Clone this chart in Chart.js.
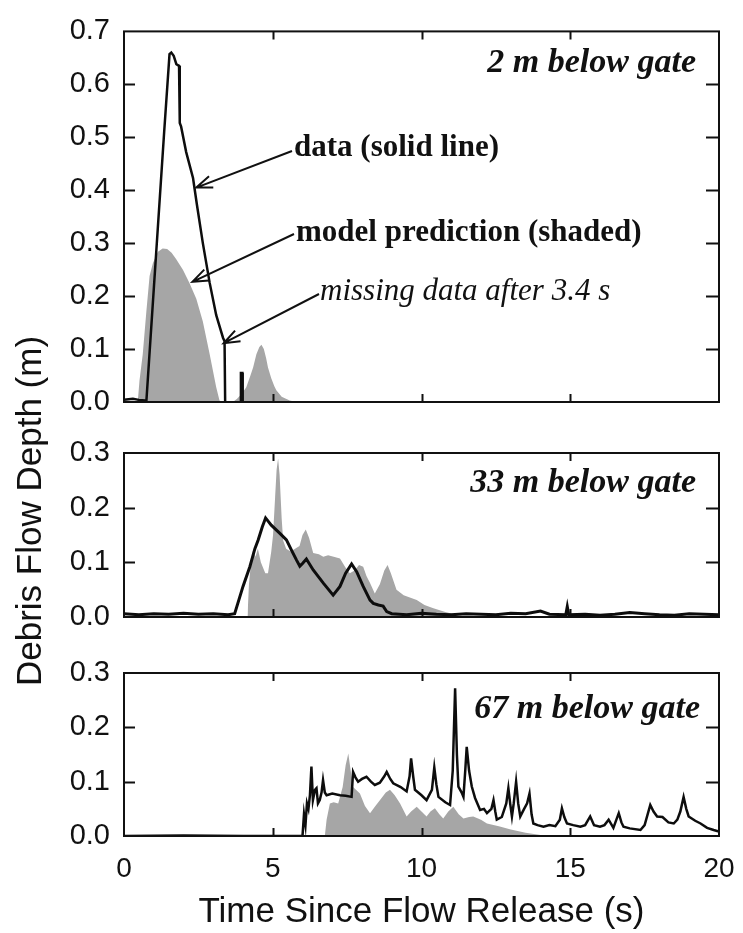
<!DOCTYPE html>
<html>
<head>
<meta charset="utf-8">
<title>Debris Flow Depth</title>
<script src="https://cdn.jsdelivr.net/npm/chart.js@4.4.1/dist/chart.umd.min.js"></script>
<style>
  html, body { margin: 0; padding: 0; background: #fff; }
  #wrap { position: relative; width: 743px; height: 933px; }
  #wrap canvas { position: absolute; left: 0; top: 0; }
</style>
</head>
<body>
<div id="wrap">
  <canvas id="gate2" width="743" height="933"></canvas>
  <canvas id="gate33" width="743" height="933"></canvas>
  <canvas id="gate67" width="743" height="933"></canvas>
</div>
<script>
// ---- time axis ----
const timeTicks = [0, 5, 10, 15, 20];

// ---- 2 m below gate ----
const gate2Time  = [0, 0.3, 0.5, 0.7, 0.75, 0.95, 1.15, 1.35, 1.53, 1.59, 1.67, 1.76, 1.85, 1.87, 1.88, 1.92, 2.09, 2.32, 2.45, 2.65, 2.88, 3.1, 3.33, 3.38, 3.4, 3.41, 3.92, 3.93, 3.98, 3.99, 4.0];
const gate2Depth = [0.004, 0.006, 0.004, 0.003, 0.0, 0.17, 0.34, 0.51, 0.657, 0.66, 0.654, 0.638, 0.635, 0.626, 0.527, 0.52, 0.472, 0.423, 0.373, 0.30, 0.225, 0.164, 0.121, 0.115, 0.0, null, 0.0, 0.055, 0.055, 0.0, null];
const gate2ModelTime  = [0.4, 0.47, 0.52, 0.63, 0.75, 0.86, 0.97, 1.14, 1.3, 1.45, 1.6, 1.75, 1.98, 2.2, 2.43, 2.65, 2.88, 3.1, 3.21, 3.3, 3.66, 3.8, 3.95, 4.11, 4.25, 4.34, 4.45, 4.55, 4.62, 4.7, 4.78, 4.84, 4.95, 5.05, 5.12, 5.3, 5.57, 5.8];
const gate2Model      = [0, 0.005, 0.04, 0.09, 0.17, 0.238, 0.262, 0.284, 0.29, 0.289, 0.282, 0.27, 0.25, 0.225, 0.195, 0.152, 0.09, 0.028, 0.003, 0, 0, 0.006, 0.015, 0.028, 0.05, 0.065, 0.09, 0.104, 0.108, 0.1, 0.082, 0.065, 0.045, 0.03, 0.022, 0.01, 0.003, 0];

// ---- 33 m below gate ----
const gate33Time  = [0, 0.5, 1, 1.5, 2, 2.5, 3, 3.5, 3.72, 4.0, 4.23, 4.4, 4.51, 4.65, 4.76, 4.85, 4.95, 5.24, 5.46, 5.65, 5.8, 5.91, 6.0, 6.13, 6.36, 6.7, 7.03, 7.26, 7.45, 7.65, 7.82, 8.04, 8.27, 8.38, 8.55, 8.71, 8.83, 9.0, 9.5, 10.0, 10.5, 11, 11.5, 12, 12.5, 13, 13.5, 14.0, 14.3, 14.85, 14.9, 14.95, 15.5, 16, 16.5, 17, 17.5, 18, 18.5, 19, 19.5, 20];
const gate33Depth = [0.006, 0.004, 0.006, 0.005, 0.007, 0.005, 0.006, 0.004, 0.006, 0.056, 0.092, 0.125, 0.141, 0.165, 0.181, 0.175, 0.168, 0.153, 0.141, 0.12, 0.104, 0.093, 0.098, 0.106, 0.086, 0.062, 0.04, 0.056, 0.08, 0.097, 0.083, 0.056, 0.031, 0.025, 0.022, 0.02, 0.01, 0.006, 0.004, 0.007, 0.005, 0.004, 0.006, 0.005, 0.004, 0.007, 0.006, 0.011, 0.005, 0.004, 0.019, 0.004, 0.005, 0.003, 0.005, 0.008, 0.006, 0.004, 0.003, 0.006, 0.005, 0.004];
const gate33ModelTime = [4.15, 4.2, 4.27, 4.34, 4.42, 4.5, 4.6, 4.75, 4.84, 4.95, 5.01, 5.08, 5.13, 5.18, 5.23, 5.3, 5.35, 5.45, 5.6, 5.75, 5.9, 6.0, 6.11, 6.22, 6.36, 6.55, 6.7, 6.86, 7.05, 7.26, 7.45, 7.59, 7.75, 7.9, 8.04, 8.15, 8.27, 8.43, 8.6, 8.75, 8.86, 8.97, 9.16, 9.4, 9.84, 10.1, 10.4, 10.8, 11.1, 11.3];
const gate33Model     = [0, 0.06, 0.1, 0.123, 0.11, 0.125, 0.1, 0.08, 0.08, 0.12, 0.15, 0.22, 0.27, 0.29, 0.26, 0.18, 0.14, 0.125, 0.12, 0.125, 0.13, 0.15, 0.16, 0.145, 0.117, 0.115, 0.11, 0.113, 0.11, 0.107, 0.09, 0.08, 0.085, 0.095, 0.092, 0.075, 0.062, 0.043, 0.06, 0.085, 0.095, 0.08, 0.05, 0.04, 0.031, 0.022, 0.016, 0.009, 0.005, 0];

// ---- 67 m below gate ----
const gate67Time  = [0, 2, 4, 6.0, 6.05, 6.1, 6.15, 6.2, 6.25, 6.3, 6.35, 6.42, 6.47, 6.52, 6.58, 6.64, 6.69, 6.75, 6.81, 7.0, 7.26, 7.45, 7.65, 7.7, 7.78, 7.87, 8.0, 8.15, 8.3, 8.43, 8.6, 8.75, 8.83, 8.95, 9.05, 9.3, 9.5, 9.6, 9.65, 9.72, 9.78, 10.0, 10.17, 10.35, 10.43, 10.5, 10.57, 10.8, 10.96, 11.05, 11.13, 11.19, 11.24, 11.35, 11.41, 11.47, 11.52, 11.6, 11.69, 11.8, 11.97, 12.1, 12.2, 12.35, 12.42, 12.48, 12.53, 12.7, 12.85, 12.92, 12.98, 13.04, 13.1, 13.18, 13.25, 13.32, 13.45, 13.55, 13.63, 13.7, 13.76, 13.9, 14.1, 14.3, 14.5, 14.65, 14.72, 14.8, 14.89, 15.1, 15.34, 15.5, 15.67, 15.8, 16.0, 16.15, 16.29, 16.45, 16.63, 16.72, 16.79, 17.0, 17.36, 17.5, 17.69, 17.8, 17.92, 18.1, 18.3, 18.48, 18.6, 18.7, 18.81, 18.9, 18.98, 19.2, 19.38, 19.6, 19.82, 20];
const gate67Depth = [0.0, 0.001, 0.0, 0.0, 0.04, 0.02, 0.06, 0.05, 0.075, 0.128, 0.066, 0.085, 0.088, 0.06, 0.066, 0.08, 0.103, 0.08, 0.075, 0.078, 0.075, 0.074, 0.072, 0.118, 0.108, 0.1, 0.105, 0.109, 0.1, 0.094, 0.098, 0.11, 0.118, 0.105, 0.097, 0.09, 0.082, 0.11, 0.143, 0.11, 0.085, 0.075, 0.066, 0.085, 0.126, 0.095, 0.072, 0.062, 0.057, 0.12, 0.272, 0.15, 0.091, 0.08, 0.072, 0.12, 0.164, 0.12, 0.091, 0.07, 0.048, 0.05, 0.042, 0.05, 0.066, 0.045, 0.03, 0.035, 0.06, 0.088, 0.06, 0.036, 0.06, 0.10, 0.06, 0.036, 0.05, 0.06, 0.078, 0.04, 0.023, 0.02, 0.017, 0.02, 0.018, 0.03, 0.051, 0.035, 0.023, 0.02, 0.017, 0.02, 0.036, 0.02, 0.017, 0.02, 0.03, 0.015, 0.042, 0.025, 0.017, 0.014, 0.011, 0.02, 0.057, 0.045, 0.036, 0.035, 0.025, 0.023, 0.03, 0.045, 0.072, 0.05, 0.036, 0.028, 0.023, 0.015, 0.011, 0.008];
const gate67ModelTime = [6.75, 6.81, 6.92, 7.05, 7.2, 7.35, 7.45, 7.54, 7.62, 7.7, 7.93, 8.1, 8.27, 8.45, 8.6, 8.8, 8.94, 9.1, 9.28, 9.5, 9.65, 9.84, 10.0, 10.17, 10.3, 10.45, 10.6, 10.73, 10.9, 11.07, 11.25, 11.41, 11.6, 11.74, 12.0, 12.2, 12.6, 13.0, 13.5, 14.0, 14.3];
const gate67Model     = [0, 0.03, 0.06, 0.062, 0.06, 0.09, 0.13, 0.152, 0.12, 0.09, 0.078, 0.055, 0.042, 0.055, 0.066, 0.08, 0.085, 0.075, 0.06, 0.036, 0.045, 0.054, 0.045, 0.036, 0.045, 0.051, 0.04, 0.032, 0.045, 0.054, 0.04, 0.032, 0.035, 0.036, 0.03, 0.023, 0.018, 0.012, 0.006, 0.002, 0];

const INK = '#111';
const SHADE = '#a6a6a6';
const SANS = '"Liberation Sans", Arial, Helvetica, sans-serif';
const SERIF = '"Liberation Serif", "Times New Roman", Times, serif';

Chart.defaults.font.family = SANS;
Chart.defaults.color = INK;

const pts = (ts, vs) => ts.map((t, i) => ({ x: t, y: vs[i] }));

// box around the plot with inward ticks on all four sides
const frameTicks = {
  id: 'frameTicks',
  afterDraw(chart) {
    const { ctx, chartArea: a, scales: { x, y } } = chart;
    ctx.save();
    ctx.strokeStyle = INK;
    ctx.lineWidth = 2;
    ctx.strokeRect(a.left, a.top, a.right - a.left, a.bottom - a.top);
    ctx.beginPath();
    for (let v = 0.1; v < y.max - 0.05; v += 0.1) {
      const py = Math.round(y.getPixelForValue(v)) + 0.5;
      ctx.moveTo(a.left, py); ctx.lineTo(a.left + 11, py);
      ctx.moveTo(a.right, py); ctx.lineTo(a.right - 13, py);
    }
    timeTicks.slice(1, -1).forEach(t => {
      const px = Math.round(x.getPixelForValue(t)) + 0.5;
      ctx.moveTo(px, a.top); ctx.lineTo(px, a.top + 8);
      ctx.moveTo(px, a.bottom); ctx.lineTo(px, a.bottom - 8);
    });
    ctx.stroke();
    ctx.restore();
  }
};

function arrow(ctx, x0, y0, x1, y1) {
  const ang = Math.atan2(y1 - y0, x1 - x0);
  const head = 17, spread = 0.36;
  ctx.beginPath();
  ctx.moveTo(x0, y0);
  ctx.lineTo(x1, y1);
  ctx.moveTo(x1 - head * Math.cos(ang - spread), y1 - head * Math.sin(ang - spread));
  ctx.lineTo(x1, y1);
  ctx.lineTo(x1 - head * Math.cos(ang + spread), y1 - head * Math.sin(ang + spread));
  ctx.stroke();
}

function notes(draw) {
  return {
    id: 'notes',
    afterDraw(chart) {
      const ctx = chart.ctx;
      ctx.save();
      ctx.fillStyle = INK;
      ctx.strokeStyle = INK;
      ctx.lineWidth = 2;
      draw(ctx, chart.scales.x, chart.scales.y);
      ctx.restore();
    }
  };
}

function panel(id, o) {
  return new Chart(document.getElementById(id), {
    type: 'line',
    data: {
      datasets: [
        {
          label: 'data',
          data: pts(o.dataT, o.dataV),
          borderColor: '#0d0d0d',
          borderWidth: o.lw,
          pointRadius: 0,
          fill: false,
          spanGaps: false
        },
        {
          label: 'model prediction',
          data: pts(o.modelT, o.modelV),
          borderColor: 'rgba(0,0,0,0)',
          borderWidth: 0,
          backgroundColor: SHADE,
          pointRadius: 0,
          fill: 'origin'
        }
      ]
    },
    options: {
      responsive: false,
      animation: false,
      devicePixelRatio: 1,
      layout: { padding: { left: 0, right: 24, top: o.top, bottom: o.bottom } },
      plugins: { legend: { display: false }, tooltip: { enabled: false } },
      scales: {
        x: {
          type: 'linear', min: 0, max: 20,
          display: o.showX,
          grid: { display: false, drawTicks: false },
          border: { display: false },
          ticks: { stepSize: 5, padding: 16, maxRotation: 0, font: { size: 28 }, color: INK },
          title: {
            display: true, text: 'Time Since Flow Release (s)',
            font: { size: 35 }, color: INK, padding: { top: 4, bottom: 0 }
          },
          afterFit: s => {
            // keep the end labels from pushing the plot edges inward
            s.paddingLeft = 0;
            s.paddingRight = 0;
            if (o.showX) s.height = 97;
          }
        },
        y: {
          min: 0, max: o.yMax,
          grid: { display: false, drawTicks: false },
          border: { display: false },
          ticks: { stepSize: 0.1, padding: 14, font: { size: 29 }, color: INK, callback: v => v.toFixed(1) },
          afterFit: s => { s.width = 124; }
        }
      }
    },
    plugins: [frameTicks, o.notes]
  });
}

panel('gate2', {
  dataT: gate2Time, dataV: gate2Depth, modelT: gate2ModelTime, modelV: gate2Model,
  yMax: 0.7, top: 23, bottom: 933 - 402, showX: false, lw: 2.5,
  notes: notes((ctx, x, y) => {
    ctx.font = 'italic bold 34px ' + SERIF;
    ctx.textAlign = 'right';
    ctx.fillText('2 m below gate', 696, 72);
    ctx.textAlign = 'left';
    ctx.font = 'bold 31px ' + SERIF;
    ctx.fillText('data (solid line)', 294, 156);
    ctx.fillText('model prediction (shaded)', 296, 241);
    ctx.font = 'italic 31px ' + SERIF;
    ctx.fillText('missing data after 3.4 s', 320, 300);
    arrow(ctx, 292, 151, x.getPixelForValue(2.43), y.getPixelForValue(0.405));
    arrow(ctx, 294, 234, x.getPixelForValue(2.30), y.getPixelForValue(0.227));
    arrow(ctx, 319, 294, x.getPixelForValue(3.35), y.getPixelForValue(0.111));
  })
});

panel('gate33', {
  dataT: gate33Time, dataV: gate33Depth, modelT: gate33ModelTime, modelV: gate33Model,
  yMax: 0.3, top: 453, bottom: 933 - 617, showX: false, lw: 3,
  notes: notes(ctx => {
    ctx.font = 'italic bold 34px ' + SERIF;
    ctx.textAlign = 'right';
    ctx.fillText('33 m below gate', 696, 492);
    // shared axis title for all three panels
    ctx.font = '35px ' + SANS;
    ctx.textAlign = 'center';
    ctx.translate(41, 511);
    ctx.rotate(-Math.PI / 2);
    ctx.fillText('Debris Flow Depth (m)', 0, 0);
  })
});

panel('gate67', {
  dataT: gate67Time, dataV: gate67Depth, modelT: gate67ModelTime, modelV: gate67Model,
  yMax: 0.3, top: 673, bottom: 0, showX: true, lw: 2.5,
  notes: notes(ctx => {
    ctx.font = 'italic bold 34px ' + SERIF;
    ctx.textAlign = 'right';
    ctx.fillText('67 m below gate', 700, 718);
  })
});
</script>
</body>
</html>
